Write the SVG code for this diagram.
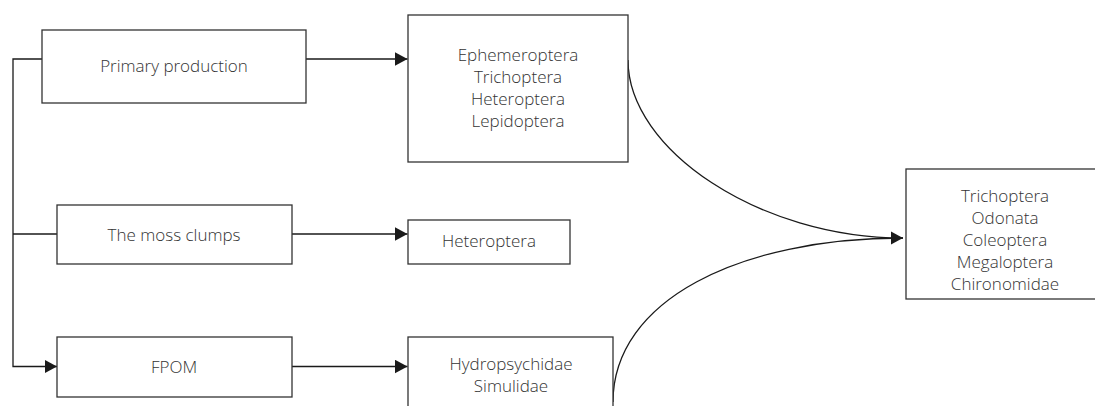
<svg xmlns="http://www.w3.org/2000/svg" width="1095" height="406" viewBox="0 0 1095 406">
  <defs>
    <marker id="arr" markerWidth="13" markerHeight="14" refX="12.5" refY="6.75" orient="auto" markerUnits="userSpaceOnUse">
      <path d="M0,0 L12.5,6.75 L0,13.5 Z" fill="#1a1a1a"/>
    </marker>
    <style>
      .box { fill: #fff; stroke: #333; stroke-width: 1.3; }
      .lbl { font-family: "Open Sans", "Liberation Sans", sans-serif; font-weight: 300; font-size: 17px; fill: #333; text-anchor: middle; }
      .con { fill: none; stroke: #1a1a1a; stroke-width: 1.3; }
    </style>
  </defs>
  <rect width="1095" height="406" fill="#fff"/>

  <g id="connectors">
    <path class="con" d="M42,59 H13 V366.5 H57" marker-end="url(#arr)"/>
    <path class="con" d="M13,234 H57"/>
    <path class="con" d="M306,59 H407.5" marker-end="url(#arr)"/>
    <path class="con" d="M292,234 H407.5" marker-end="url(#arr)"/>
    <path class="con" d="M292,366.5 H407.5" marker-end="url(#arr)"/>
    <path class="con" d="M628,60 C628,150 760,238 903,238" marker-end="url(#arr)"/>
    <path class="con" d="M613,402 C613,300 740,238 903,238"/>
  </g>

  <g id="primary">
    <rect class="box" x="42" y="30" width="264" height="73"/>
    <text class="lbl" x="174" y="72">Primary production</text>
  </g>
  <g id="moss">
    <rect class="box" x="57" y="205" width="235" height="59"/>
    <text class="lbl" x="174" y="240.5">The moss clumps</text>
  </g>
  <g id="fpom">
    <rect class="box" x="57" y="337" width="235" height="60"/>
    <text class="lbl" x="174" y="373">FPOM</text>
  </g>
  <g id="group1">
    <rect class="box" x="408" y="15" width="220" height="147"/>
    <text class="lbl" x="518" y="60.5">Ephemeroptera</text>
    <text class="lbl" x="518" y="82.5">Trichoptera</text>
    <text class="lbl" x="518" y="104.5">Heteroptera</text>
    <text class="lbl" x="518" y="126.5">Lepidoptera</text>
  </g>
  <g id="group2">
    <rect class="box" x="408" y="220" width="162" height="44"/>
    <text class="lbl" x="489" y="247">Heteroptera</text>
  </g>
  <g id="group3">
    <rect class="box" x="408" y="337" width="205" height="90"/>
    <text class="lbl" x="511" y="370">Hydropsychidae</text>
    <text class="lbl" x="511" y="392">Simulidae</text>
  </g>
  <g id="predators">
    <rect class="box" x="906" y="169" width="200" height="130"/>
    <text class="lbl" x="1005" y="201.5">Trichoptera</text>
    <text class="lbl" x="1005" y="223.5">Odonata</text>
    <text class="lbl" x="1005" y="245.5">Coleoptera</text>
    <text class="lbl" x="1005" y="267.5">Megaloptera</text>
    <text class="lbl" x="1005" y="289.5">Chironomidae</text>
  </g>
</svg>
